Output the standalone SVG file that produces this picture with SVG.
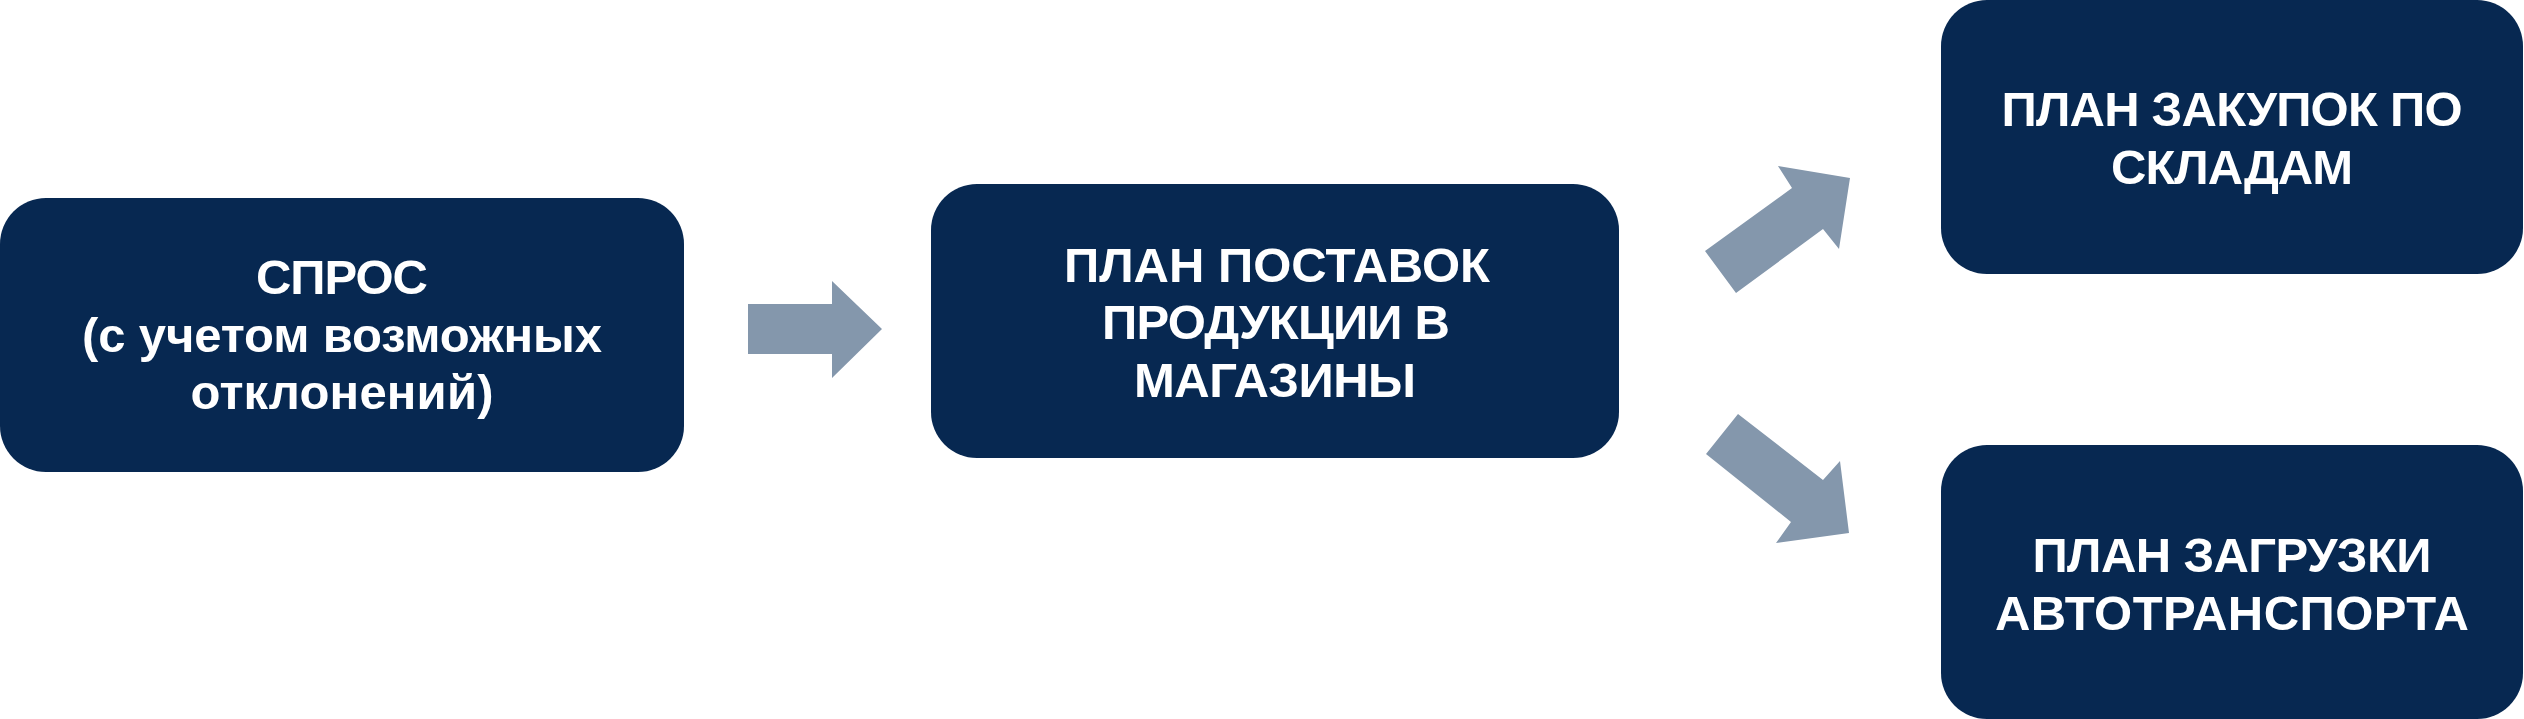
<svg xmlns="http://www.w3.org/2000/svg" width="2524" height="719" viewBox="0 0 2524 719">
<style>
.box{fill:#072851;}
.arr{fill:#8497AC;}
.t{font-family:"Liberation Sans",Arial,sans-serif;font-weight:bold;font-size:49px;fill:#ffffff;text-anchor:middle;}
</style>
<rect width="2524" height="719" fill="#ffffff"/>
<g id="node-demand">
<rect class="box" x="0" y="198" width="684" height="274" rx="46" ry="46"/>
<text class="t" x="342" y="294" textLength="172" lengthAdjust="spacing">СПРОС</text>
<text class="t" x="342" y="352" textLength="520" lengthAdjust="spacing">(с учетом возможных</text>
<text class="t" x="342" y="409" textLength="303" lengthAdjust="spacing">отклонений)</text>
</g>
<g id="node-delivery">
<rect class="box" x="931" y="184" width="688" height="274" rx="46" ry="46"/>
<text class="t" x="1277" y="282" textLength="426" lengthAdjust="spacing">ПЛАН ПОСТАВОК</text>
<text class="t" x="1276" y="339" textLength="348" lengthAdjust="spacing">ПРОДУКЦИИ В</text>
<text class="t" x="1275" y="397" textLength="282" lengthAdjust="spacing">МАГАЗИНЫ</text>
</g>
<g id="node-purchase">
<rect class="box" x="1941" y="0" width="582" height="274" rx="46" ry="46"/>
<text class="t" x="2232" y="126" textLength="461" lengthAdjust="spacing">ПЛАН ЗАКУПОК ПО</text>
<text class="t" x="2232" y="184" textLength="242" lengthAdjust="spacing">СКЛАДАМ</text>
</g>
<g id="node-transport">
<rect class="box" x="1941" y="445" width="582" height="274" rx="46" ry="46"/>
<text class="t" x="2232" y="572" textLength="399" lengthAdjust="spacing">ПЛАН ЗАГРУЗКИ</text>
<text class="t" x="2232" y="630" textLength="474" lengthAdjust="spacing">АВТОТРАНСПОРТА</text>
</g>
<g id="connectors">
<polygon class="arr" points="748,304 832,304 832,281 882,329 832,378 832,354 748,354"/>
<polygon class="arr" points="1705,251 1792,188 1778,166 1850,178 1839,249 1823,229 1736,293"/>
<polygon class="arr" points="1738,414 1823,480 1840,461 1849,533 1776,543 1791,522 1706,454"/>
</g>
</svg>
